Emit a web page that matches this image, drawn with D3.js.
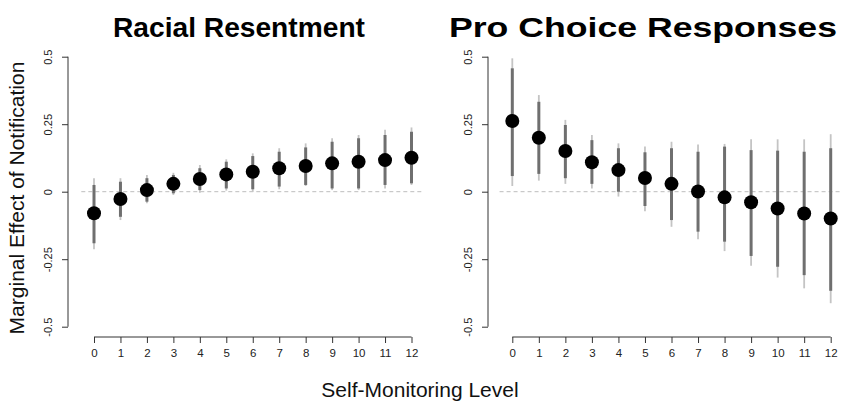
<!DOCTYPE html>
<html>
<head>
<meta charset="utf-8">
<script src="https://cdn.jsdelivr.net/npm/d3@7"></script>
<style>
  html, body { margin: 0; padding: 0; background: #fff; }
  svg { display: block; font-family: Arial, "Liberation Sans", Helvetica, sans-serif; }
</style>
</head>
<body>
<svg id="chart" width="842" height="407"></svg>
<script>
// ---- Data ----
const levels = [0, 1, 2, 3, 4, 5, 6, 7, 8, 9, 10, 11, 12];
const yTicks = [-0.5, -0.25, 0, 0.25, 0.5];
const yTickLabels = ["-0.5", "-0.25", "0", "0.25", "0.5"];

const panelTitles = ["Racial Resentment", "Pro Choice Responses"];

// Racial Resentment
const rrEst  = [-0.080, -0.027, 0.006, 0.029, 0.047, 0.064, 0.074, 0.087, 0.095, 0.105, 0.111, 0.117, 0.126];
const rrLo95 = [-0.213, -0.105, -0.043, -0.012, -0.004, 0.004, 0.000, 0.009, 0.021, 0.006, 0.006, 0.012, 0.025];
const rrHi95 = [0.050, 0.050, 0.062, 0.070, 0.099, 0.120, 0.142, 0.161, 0.179, 0.198, 0.210, 0.229, 0.238];
const rrLo90 = [-0.191, -0.093, -0.037, -0.006, 0.006, 0.012, 0.009, 0.019, 0.025, 0.012, 0.012, 0.025, 0.031];
const rrHi90 = [0.025, 0.037, 0.050, 0.062, 0.087, 0.111, 0.132, 0.148, 0.164, 0.185, 0.198, 0.210, 0.222];

// Pro Choice Responses
const pcEst  = [0.262, 0.200, 0.151, 0.109, 0.080, 0.051, 0.029, 0.001, -0.021, -0.039, -0.062, -0.081, -0.099];
const pcLo95 = [0.021, 0.041, 0.029, 0.012, -0.018, -0.072, -0.130, -0.176, -0.220, -0.274, -0.318, -0.358, -0.413];
const pcHi95 = [0.494, 0.358, 0.266, 0.210, 0.179, 0.167, 0.185, 0.175, 0.177, 0.194, 0.194, 0.194, 0.213];
const pcLo90 = [0.058, 0.066, 0.050, 0.029, 0.000, -0.053, -0.105, -0.148, -0.185, -0.238, -0.278, -0.309, -0.367];
const pcHi90 = [0.457, 0.333, 0.247, 0.191, 0.161, 0.146, 0.161, 0.148, 0.167, 0.154, 0.152, 0.148, 0.161];

const panels = [
  { title: panelTitles[0], est: rrEst, lo95: rrLo95, hi95: rrHi95, lo90: rrLo90, hi90: rrHi90,
    x0: 94, x1: 411.5, axisX: 68, titleX: 239, titleW: 252 },
  { title: panelTitles[1], est: pcEst, lo95: pcLo95, hi95: pcHi95, lo90: pcLo90, hi90: pcHi90,
    x0: 512.3, x1: 830.7, axisX: 488, titleX: 643, titleW: 388 }
];

const svg = d3.select("#chart");
const y = d3.scaleLinear().domain([-0.5, 0.5]).range([326.7, 56.7]);
const axisY = 337;

panels.forEach(p => {
  const x = d3.scaleLinear().domain([0, 12]).range([p.x0, p.x1]);
  const g = svg.append("g");

  // zero reference line
  g.append("line")
    .attr("x1", x(-0.48)).attr("x2", x(12.48))
    .attr("y1", y(0)).attr("y2", y(0))
    .attr("stroke", "#bdbdbd").attr("stroke-width", 1)
    .attr("stroke-dasharray", "4,3");

  // y axis
  const ya = d3.axisLeft(y).tickValues(yTicks).tickSize(6).tickFormat((d, i) => yTickLabels[i]);
  const yg = g.append("g").attr("transform", `translate(${p.axisX},0)`).call(ya);
  yg.select(".domain").attr("stroke", "#333").attr("d", `M0,${y(-0.5)}V${y(0.5)}`);
  yg.selectAll(".tick line").attr("stroke", "#333");
  yg.selectAll(".tick text")
    .attr("x", null).attr("dy", null)
    .attr("transform", "translate(-20,0) rotate(-90)")
    .attr("text-anchor", "middle")
    .attr("dy", "0.35em")
    .attr("fill", "#222")
    .style("font-size", "11px")
    .style("font-family", "Arial, 'Liberation Sans', sans-serif");

  // x axis
  const xa = d3.axisBottom(x).tickValues(levels).tickSize(6).tickFormat(d3.format("d"));
  const xg = g.append("g").attr("transform", `translate(0,${axisY})`).call(xa);
  xg.select(".domain").attr("stroke", "#333").attr("d", `M${x(0)},0H${x(12)}`);
  xg.selectAll(".tick line").attr("stroke", "#333");
  xg.selectAll(".tick text")
    .attr("y", 12)
    .attr("fill", "#222")
    .style("font-size", "11.5px")
    .style("font-family", "Arial, 'Liberation Sans', sans-serif");

  // 95% intervals (thin, light)
  g.selectAll("line.ci95").data(levels).enter().append("line")
    .attr("class", "ci95")
    .attr("x1", d => x(d)).attr("x2", d => x(d))
    .attr("y1", (d, i) => y(p.lo95[i])).attr("y2", (d, i) => y(p.hi95[i]))
    .attr("stroke", "#c4c4c4").attr("stroke-width", 1.8);

  // 90% intervals (thick, dark)
  g.selectAll("line.ci90").data(levels).enter().append("line")
    .attr("class", "ci90")
    .attr("x1", d => x(d)).attr("x2", d => x(d))
    .attr("y1", (d, i) => y(p.lo90[i])).attr("y2", (d, i) => y(p.hi90[i]))
    .attr("stroke", "#6f6f6f").attr("stroke-width", 3);

  // point estimates
  g.selectAll("circle.est").data(levels).enter().append("circle")
    .attr("class", "est")
    .attr("cx", d => x(d)).attr("cy", (d, i) => y(p.est[i]))
    .attr("r", 7).attr("fill", "#000");

  // title
  g.append("text")
    .attr("x", p.titleX).attr("y", 37)
    .attr("text-anchor", "middle")
    .attr("textLength", p.titleW)
    .attr("lengthAdjust", "spacingAndGlyphs")
    .style("font-size", "28px").style("font-weight", "bold")
    .attr("fill", "#000")
    .text(p.title);
});

// axis titles
svg.append("text")
  .attr("transform", "translate(24,198) rotate(-90)")
  .attr("text-anchor", "middle")
  .style("font-size", "21px")
  .attr("fill", "#111")
  .text("Marginal Effect of Notification");

svg.append("text")
  .attr("x", 420).attr("y", 397)
  .attr("text-anchor", "middle")
  .style("font-size", "21px")
  .attr("fill", "#111")
  .text("Self-Monitoring Level");
</script>
</body>
</html>
